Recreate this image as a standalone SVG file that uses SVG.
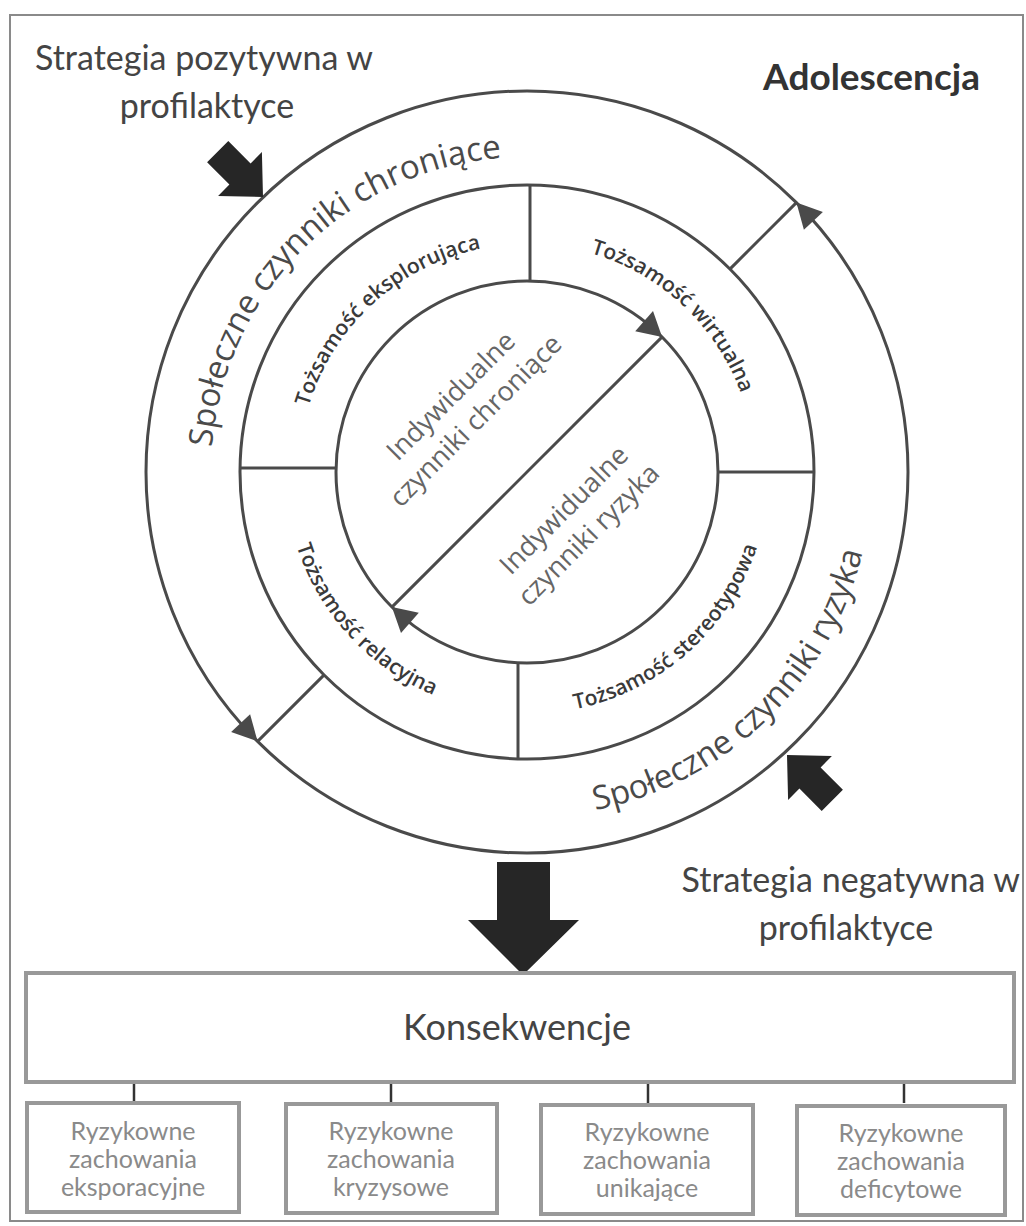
<svg xmlns="http://www.w3.org/2000/svg" width="1026" height="1226" viewBox="0 0 1026 1226">
<style>
.ring{fill:none;stroke:#4a4a4a;stroke-width:3}
.ln{stroke:#4a4a4a;stroke-width:3;fill:none}
.ah{fill:#4a4a4a}
.blk{fill:#262626}
.big{font-family:Lato,"Liberation Sans",sans-serif;font-size:34px;fill:#444}
.ringt{font-family:"Open Sans","Noto Sans",sans-serif;font-size:33px;fill:#4a4a4a}
.mid{font-family:"Open Sans","Noto Sans",sans-serif;font-size:21px;font-weight:600;fill:#3a3a3a}
.inn{font-family:"Open Sans","Noto Sans",sans-serif;font-size:27px;fill:#666;text-anchor:middle}
.box{fill:#fff;stroke:#999;stroke-width:4}
.sm{font-family:Lato,"Liberation Sans",sans-serif;font-size:25px;fill:#8a8a8a;text-anchor:middle}
</style>
<defs>
<path id="pA" d="M 211.5 490.0 A 315 315 0 0 1 544.6 157.5"/>
<path id="pB" d="M 490.9 815.1 A 345 345 0 0 0 871.2 447.9"/>
<path id="pC" d="M 299.2 481.9 A 228 228 0 0 1 556.8 245.9"/>
<path id="pD" d="M 499.2 245.7 A 228 228 0 0 1 754.7 483.9"/>
<path id="pE" d="M 287.1 440.4 A 242 242 0 0 0 537.6 713.8"/>
<path id="pF" d="M 492.1 711.5 A 242 242 0 0 0 768.9 464.8"/>
</defs>
<rect x="10" y="15" width="1013" height="1206" fill="#fff" stroke="#8a8a8a" stroke-width="2"/>
<g id="title-left">
<text class="big" x="35" y="70">Strategia pozytywna w</text>
<text class="big" x="207" y="118" text-anchor="middle">profilaktyce</text>
</g>
<g id="title-right">
<text x="980" y="90" text-anchor="end" style="font-family:Lato,'Liberation Sans',sans-serif;font-size:37px;font-weight:bold;fill:#333">Adolescencja</text>
</g>
<g id="circles">
<circle class="ring" cx="527" cy="472" r="381"/>
<circle class="ring" cx="527" cy="472" r="287"/>
<circle class="ring" cx="527" cy="472" r="191"/>
</g>
<g id="connectors">
<line class="ln" x1="530" y1="185" x2="530" y2="281"/>
<line class="ln" x1="240" y1="468" x2="336" y2="468"/>
<line class="ln" x1="718" y1="472" x2="814" y2="472"/>
<line class="ln" x1="518" y1="663" x2="518" y2="759"/>
<line class="ln" x1="729.9" y1="269.1" x2="796.4" y2="202.6"/>
<line class="ln" x1="324.1" y1="674.9" x2="257.6" y2="741.4"/>
<line class="ln" x1="391.9" y1="607.1" x2="662.1" y2="336.9"/>
<polygon class="ah" points="796.4,202.6 822.9,211.9 803.9,229.7"/>
<polygon class="ah" points="257.6,741.4 250.1,714.3 231.1,732.1"/>
<polygon class="ah" points="662.1,336.9 635.2,331.2 653,311"/>
<polygon class="ah" points="391.9,607.1 418.8,612.8 401,633"/>
<line x1="134" y1="1082" x2="134" y2="1103" stroke="#333" stroke-width="2.5"/>
<line x1="391" y1="1082" x2="391" y2="1103" stroke="#333" stroke-width="2.5"/>
<line x1="648" y1="1082" x2="648" y2="1103" stroke="#333" stroke-width="2.5"/>
<line x1="904" y1="1082" x2="904" y2="1103" stroke="#333" stroke-width="2.5"/>
</g>
<g id="ring-labels">
<text class="ringt"><textPath href="#pA" startOffset="50%" text-anchor="middle">Społeczne  czynniki chroniące</textPath></text>
<text class="ringt"><textPath href="#pB" startOffset="50%" text-anchor="middle">Społeczne  czynniki ryzyka</textPath></text>
</g>
<g id="segment-eksplorujaca"><text class="mid"><textPath href="#pC" startOffset="50%" text-anchor="middle">Tożsamość eksplorująca</textPath></text></g>
<g id="segment-wirtualna"><text class="mid"><textPath href="#pD" startOffset="50%" text-anchor="middle">Tożsamość wirtualna</textPath></text></g>
<g id="segment-relacyjna"><text class="mid"><textPath href="#pE" startOffset="50%" text-anchor="middle">Tożsamość relacyjna</textPath></text></g>
<g id="segment-stereotypowa"><text class="mid"><textPath href="#pF" startOffset="50%" text-anchor="middle">Tożsamość stereotypowa</textPath></text></g>
<g id="inner-chroniace" transform="translate(463,408) rotate(-45)">
<text class="inn" x="0" y="-8">Indywidualne</text>
<text class="inn" x="0" y="27">czynniki chroniące</text>
</g>
<g id="inner-ryzyka" transform="translate(576,522) rotate(-45)">
<text class="inn" x="0" y="-8">Indywidualne</text>
<text class="inn" x="0" y="27">czynniki ryzyka</text>
</g>
<g id="arrow-positive"><polygon class="blk" points="228.3,141.1 250.6,163.4 261.9,152.1 263,197 218.1,195.9 229.4,184.6 207.1,162.3"/></g>
<g id="arrow-negative"><polygon class="blk" points="821.7,810.9 799.4,788.6 788.1,799.9 787,755 831.9,756.1 820.6,767.4 842.9,789.7"/></g>
<g id="strategy-negative">
<text class="big" x="1020" y="892" text-anchor="end">Strategia negatywna w</text>
<text class="big" x="846" y="940" text-anchor="middle">profilaktyce</text>
</g>
<g id="arrow-down"><polygon class="blk" points="497,862 550,862 550,920 579,920 523,975 468,920 497,920"/></g>
<g id="konsekwencje">
<rect class="box" x="26" y="973" width="988" height="109"/>
<text x="517" y="1040" text-anchor="middle" style="font-family:Lato,'Liberation Sans',sans-serif;font-size:36px;fill:#444">Konsekwencje</text>
</g>
<g id="box-eksploracyjne">
<rect class="box" x="27" y="1103" width="212" height="109"/>
<text class="sm" x="133" y="1140">Ryzykowne</text><text class="sm" x="133" y="1168">zachowania</text><text class="sm" x="133" y="1196">eksporacyjne</text>
</g>
<g id="box-kryzysowe">
<rect class="box" x="286" y="1104" width="211" height="109"/>
<text class="sm" x="391" y="1140">Ryzykowne</text><text class="sm" x="391" y="1168">zachowania</text><text class="sm" x="391" y="1196">kryzysowe</text>
</g>
<g id="box-unikajace">
<rect class="box" x="541" y="1105" width="212" height="109"/>
<text class="sm" x="647" y="1141">Ryzykowne</text><text class="sm" x="647" y="1169">zachowania</text><text class="sm" x="647" y="1197">unikające</text>
</g>
<g id="box-deficytowe">
<rect class="box" x="797" y="1106" width="208" height="109"/>
<text class="sm" x="901" y="1142">Ryzykowne</text><text class="sm" x="901" y="1170">zachowania</text><text class="sm" x="901" y="1198">deficytowe</text>
</g>
</svg>
